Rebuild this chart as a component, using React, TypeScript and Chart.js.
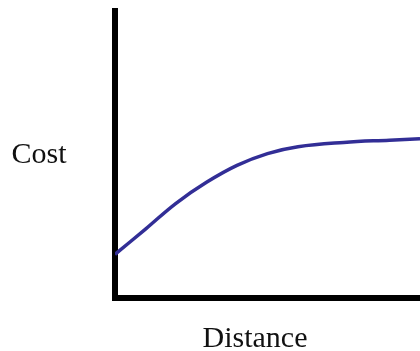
import React, { useEffect, useRef } from "react";
import { Chart, registerables } from "chart.js";

Chart.register(...registerables);

// Cost as a function of distance (arbitrary units)
const distance = [0, 10, 20, 30, 40, 50, 60, 75, 90, 100];
const cost = [15.2, 24.0, 33.0, 40.3, 46.2, 50.3, 52.7, 54.2, 55.0, 55.5];

const xTitle = "Distance";
const yTitle = "Cost";

const serif = '"Liberation Serif", "Times New Roman", serif';

// Draws the plain horizontal axis captions
const captionPlugin = {
  id: "captions",
  afterDraw(chart: Chart) {
    const { ctx, chartArea } = chart;
    ctx.save();
    ctx.fillStyle = "#111";
    ctx.font = `30px ${serif}`;
    ctx.textAlign = "center";
    ctx.textBaseline = "alphabetic";
    ctx.fillText(yTitle, 39, 163);
    ctx.fillText(xTitle, chartArea.left + 140, chartArea.bottom + 49);
    // square off the axis corner
    ctx.fillStyle = "#000";
    ctx.fillRect(chartArea.left - 3, chartArea.bottom - 3, 6, 6);
    ctx.restore();
  },
};

export default function App() {
  const ref = useRef<HTMLCanvasElement>(null);

  useEffect(() => {
    if (!ref.current) return;
    const chart = new Chart(ref.current, {
      type: "line",
      data: {
        datasets: [
          {
            data: distance.map((d, i) => ({ x: d, y: cost[i] })),
            borderColor: "rgb(50, 46, 150)",
            borderWidth: 3.5,
            pointRadius: 0,
            tension: 0.4,
            fill: false,
          },
        ],
      },
      options: {
        animation: false,
        responsive: false,
        maintainAspectRatio: false,
        layout: { padding: { left: 107, right: 0, top: 11, bottom: 45 } },
        plugins: {
          legend: { display: false },
          tooltip: { enabled: false },
        },
        scales: {
          x: {
            type: "linear",
            min: 0,
            max: 100,
            grid: { display: false },
            ticks: { display: false },
            border: { display: true, color: "#000", width: 6 },
          },
          y: {
            type: "linear",
            min: 0,
            max: 100,
            grid: { display: false },
            ticks: { display: false },
            border: { display: true, color: "#000", width: 6 },
          },
        },
      },
      plugins: [captionPlugin],
    });
    return () => chart.destroy();
  }, []);

  return (
    <div style={{ position: "fixed", left: 0, top: 0, width: 420, height: 351, background: "#fff" }}>
      <canvas ref={ref} width={420} height={351} style={{ display: "block" }} />
    </div>
  );
}
